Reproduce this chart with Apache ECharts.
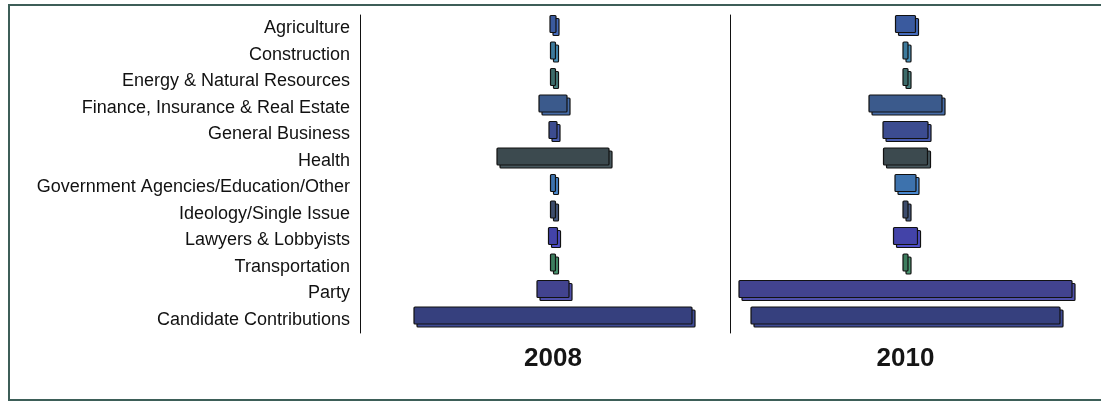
<!DOCTYPE html>
<html>
<head>
<meta charset="utf-8">
<script src="https://cdn.jsdelivr.net/npm/echarts@6/dist/echarts.min.js"></script>
<style>html,body{margin:0;padding:0;background:#fff;}#c{width:1101px;height:401px;}</style>
</head>
<body>
<div id="c"></div>
<script>
const categories = ['Agriculture','Construction','Energy & Natural Resources','Finance, Insurance & Real Estate','General Business','Health','Government Agencies/Education/Other','Ideology/Single Issue','Lawyers & Lobbyists','Transportation','Party','Candidate Contributions'];
const values2008 = [6, 5, 5, 28, 8, 112, 5, 5, 9, 5, 32, 278];
const values2010 = [20, 5, 5, 73, 45, 44, 21, 5, 24, 5, 333, 309];
const years = ['2008', '2010'];
const colors = ['#3a5a9e','#3d7a9c','#3c6b6a','#3b5a8c','#3c4c90','#3c4a4f','#3d72ad','#3c4c6c','#4343a8','#3d7d5e','#42438f','#36407e'];

function renderItem(params, api) {
  const v = api.value(0);
  const idx = api.value(1);
  const l = api.coord([-v / 2, idx]);
  const r = api.coord([v / 2, idx]);
  const band = api.size([0, 1])[1];
  const y = l[1] - band / 2 + 0.5;
  const h = 17, d = 3;
  const x = l[0], w = r[0] - l[0];
  const c = colors[idx];
  return {
    type: 'group',
    children: [
      {type: 'rect', shape: {x: x + d, y: y + d, width: w, height: h, r: 1},
       style: {fill: echarts.color.lift(c, -0.2), stroke: '#111', lineWidth: 1.2}},
      {type: 'rect', shape: {x: x, y: y, width: w, height: h, r: 1},
       style: {fill: c, stroke: '#111', lineWidth: 1.2}}
    ]
  };
}

function toData(vals) { return vals.map((v, i) => [v, i]); }

const chart = echarts.init(document.getElementById('c'), null, {renderer: 'canvas'});
const font = 'Liberation Sans, Arial, sans-serif';
chart.setOption({
  animation: false,
  graphic: [{type: 'rect', shape: {x: 9, y: 5, width: 1100, height: 395},
    style: {fill: 'none', stroke: '#3d5e58', lineWidth: 2}, z: -1}],
  grid: [
    {left: 360, width: 386, top: 15, height: 318},
    {left: 730, width: 351, top: 15, height: 318}
  ],
  xAxis: [
    {gridIndex: 0, type: 'value', min: -193, max: 193, axisLine: {show: false}, axisTick: {show: false},
     axisLabel: {show: false}, splitLine: {show: false}, name: years[0], nameLocation: 'middle', nameGap: 13,
     nameTextStyle: {fontSize: 26, fontWeight: 'bold', color: '#151515', fontFamily: font}},
    {gridIndex: 1, type: 'value', min: -175.5, max: 175.5, axisLine: {show: false}, axisTick: {show: false},
     axisLabel: {show: false}, splitLine: {show: false}, name: years[1], nameLocation: 'middle', nameGap: 13,
     nameTextStyle: {fontSize: 26, fontWeight: 'bold', color: '#151515', fontFamily: font}}
  ],
  yAxis: [
    {gridIndex: 0, type: 'category', data: categories, inverse: true,
     axisLine: {show: true, onZero: false, lineStyle: {color: '#111', width: 1}}, axisTick: {show: false},
     axisLabel: {fontSize: 18, color: '#111', fontFamily: font, margin: 10}},
    {gridIndex: 1, type: 'category', data: categories, inverse: true,
     axisLine: {show: true, onZero: false, lineStyle: {color: '#111', width: 1}}, axisTick: {show: false},
     axisLabel: {show: false}}
  ],
  series: [
    {type: 'custom', xAxisIndex: 0, yAxisIndex: 0, renderItem: renderItem, encode: {x: 0, y: 1}, data: toData(values2008)},
    {type: 'custom', xAxisIndex: 1, yAxisIndex: 1, renderItem: renderItem, encode: {x: 0, y: 1}, data: toData(values2010)}
  ]
});
</script>
</body>
</html>
